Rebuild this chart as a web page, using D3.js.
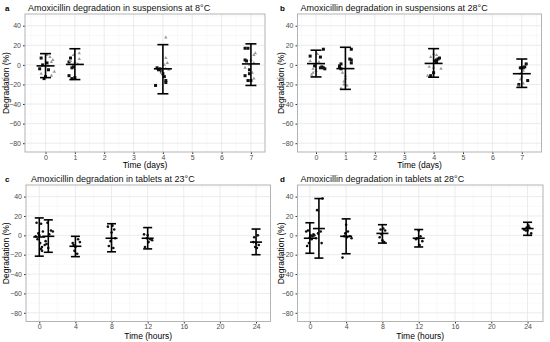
<!DOCTYPE html>
<html>
<head>
<meta charset="utf-8">
<script src="https://cdn.jsdelivr.net/npm/d3@7"></script>
<style>
  body { margin: 0; background: #fff; }
  svg { font-family: "Liberation Sans", Arial, sans-serif; }
</style>
</head>
<body>
<svg id="chart" width="550" height="342"></svg>
<script>
// ************************************
// Data
// ************************************

const panelLetters = ["a", "b", "c", "d"];
const panelTitles = [
  "Amoxicillin degradation in suspensions at 8\u00B0C",
  "Amoxicillin degradation in suspensions at 28\u00B0C",
  "Amoxicillin degradation in tablets at 23\u00B0C",
  "Amoxicillin degradation in tablets at 28\u00B0C"
];
const xTitles = ["Time (days)", "Time (days)", "Time (hours)", "Time (hours)"];
const dayTicks = [0, 1, 2, 3, 4, 5, 6, 7];
const hourTicks = [0, 4, 8, 12, 16, 20, 24];
const yTicks = [40, 20, 0, -20, -40, -60, -80];

// summary: time, mean, lower, upper
const summaryA = [[0, -1, -13, 11.5], [1, 0.5, -15, 16.5], [4, -4, -29.5, 20.7], [7, 1, -21, 21.5]];
const summaryB = [[0, 1.3, -12.3, 15], [1, -3.8, -25, 18], [4, 1.5, -12.6, 16.6], [7, -9, -23, 6]];
const summaryC = [[0, -1.7, -21.5, 18], [1, -1, -17.5, 16], [4, -11.3, -22, -1], [8, -3, -17, 12], [12, -3, -14, 8], [24, -7, -20, 6.5]];
const summaryD = [[0, -3, -18.5, 13], [1, 7, -23.5, 38], [4, -1, -19, 17], [8, 2, -8, 11], [12, -3, -12, 6], [24, 7, 0, 13.5]];

// individual points: x (time incl. jitter), y, series (s = square, t = triangle, c = dot)
const pointsA = [
  [-0.15, 7, "s"], [-0.1, 0, "s"], [0.05, 2, "s"], [-0.2, -4, "s"], [0.1, -5, "s"], [0.0, -12, "s"], [-0.05, -14, "s"],
  [0.15, 8, "t"], [0.25, 5, "t"], [0.2, 3, "t"], [0.1, -1, "t"], [0.3, -7, "t"], [-0.15, -9, "t"], [0.2, -11, "t"], [0.05, 10, "t"],
  [0.85, 7, "s"], [0.8, 3, "s"], [0.9, -3, "s"], [0.95, -2, "s"], [0.8, -11, "s"], [0.9, -14, "s"], [1.0, -13, "s"],
  [0.95, 10, "t"], [1.15, 12, "t"], [1.15, 6, "t"], [1.1, 1, "t"], [1.0, 3, "t"], [0.85, 4, "t"],
  [3.75, -21, "s"], [3.85, -5, "s"], [3.9, -4, "s"], [3.95, -7, "s"], [4.0, -9, "s"], [4.05, -12, "s"], [4.1, -16, "s"], [4.1, -18, "s"], [3.8, -3, "s"],
  [4.1, 28, "t"], [4.1, 7, "t"], [4.15, 2, "t"], [4.2, -5, "t"], [3.95, -8, "t"], [4.05, 0, "t"], [4.1, -4, "t"],
  [6.8, 17, "s"], [6.9, 17, "s"], [6.8, 5, "s"], [6.85, 4, "s"], [6.95, -5, "s"], [6.8, -11, "s"], [6.9, -16, "s"], [7.0, -16, "s"], [6.95, -9, "s"],
  [7.15, 12, "t"], [7.1, 10, "t"], [7.0, 5, "t"], [7.1, 2, "t"], [6.8, -3, "t"], [7.05, -8, "t"], [7.1, -14, "t"], [6.95, 0, "t"]
];
const pointsB = [
  [-0.2, 9, "s"], [0.25, 16, "s"], [0.15, 8, "s"], [-0.05, -1, "s"], [0.2, -2, "s"], [0.25, -3, "s"], [0.3, -4, "s"], [0.15, -3, "s"],
  [0.05, 11, "t"], [-0.1, -4, "t"], [0.0, -6, "t"], [-0.1, -8, "t"], [-0.15, -10, "t"], [0.1, 3, "t"], [-0.2, 4, "t"],
  [0.85, 1, "s"], [0.8, -1, "s"], [0.8, -2, "s"], [1.2, 16, "s"], [1.15, 6, "s"], [1.2, 5, "s"], [1.2, 2, "s"], [0.85, -4, "s"],
  [0.85, -24, "t"], [0.95, -20, "t"], [0.95, -17, "t"], [1.0, -11, "t"], [1.05, -21, "t"], [0.9, -8, "t"], [1.0, -14, "t"],
  [3.9, -11, "s"], [4.0, -8, "s"], [4.1, 5, "s"], [4.15, 6, "s"], [4.2, 7, "s"], [4.05, 4, "s"], [4.1, 3, "s"],
  [3.8, -11, "t"], [4.0, 11, "t"], [4.1, 10, "t"], [3.9, 8, "t"], [4.25, -4, "t"], [3.85, -2, "t"], [4.0, -3, "t"],
  [6.95, -3, "s"], [7.0, -3, "s"], [7.05, -3, "s"], [7.1, -2, "s"], [7.15, 1, "s"], [7.2, -16, "s"], [6.9, -20, "s"],
  [7.0, -12, "t"], [6.95, -9, "t"], [7.05, -6, "t"], [6.9, -22, "t"], [7.05, -19, "t"], [6.95, -15, "t"]
];
const pointsC = [
  [-0.3, 13, "c"], [0.2, 12, "c"], [0.4, 4, "c"], [-0.4, -1, "c"], [-0.2, -4, "c"], [0.1, -8, "c"], [0.3, -12, "c"], [0.2, -14, "c"], [0.3, -16, "c"], [0.0, 0, "c"], [-0.1, 2, "c"],
  [0.9, 13, "c"], [1.3, 5, "c"], [1.5, 4, "c"], [1.1, 1, "c"], [0.7, -6, "c"], [0.8, -9, "c"], [1.0, -13, "c"], [0.6, -10, "c"],
  [3.7, -8, "c"], [4.3, -4, "c"], [4.5, -7, "c"], [3.8, -10, "c"], [4.0, -12, "c"], [3.9, -16, "c"], [4.2, -19, "c"],
  [7.6, 9, "c"], [8.1, 10, "c"], [8.3, 6, "c"], [8.0, 3, "c"], [8.4, -3, "c"], [7.7, -11, "c"], [8.2, -13, "c"], [7.9, -6, "c"],
  [11.6, 1, "c"], [12.0, 0, "c"], [12.3, -4, "c"], [12.5, -5, "c"], [12.1, -7, "c"], [11.7, -12, "c"], [11.9, -3, "c"],
  [24.2, 0, "c"], [23.8, -2, "c"], [23.7, -7, "c"], [24.0, -8, "c"], [24.3, -10, "c"], [23.9, -12, "c"], [24.1, -13, "c"]
];
const pointsD = [
  [-0.4, 4, "c"], [-0.2, 5, "c"], [0.1, 0, "c"], [0.3, -1, "c"], [0.4, 1, "c"], [-0.3, -11, "c"], [-0.1, -8, "c"], [0.2, -4, "c"], [0.5, 0, "c"], [0.0, -2, "c"],
  [0.8, 26, "c"], [1.4, 38, "c"], [1.2, 4, "c"], [1.3, -8, "c"], [0.7, -3, "c"], [0.9, 2, "c"],
  [3.6, -23, "c"], [4.0, 11, "c"], [4.2, 4, "c"], [3.9, 2, "c"], [4.4, -1, "c"], [4.6, -3, "c"], [3.8, -1, "c"], [4.1, -2, "c"],
  [7.8, 6, "c"], [8.1, 7, "c"], [8.3, 5, "c"], [7.7, -2, "c"], [8.0, -5, "c"], [8.2, -7, "c"], [7.9, 1, "c"],
  [11.7, -4, "c"], [12.0, 5, "c"], [12.2, -1, "c"], [12.4, -6, "c"], [11.8, -3, "c"], [12.1, -10, "c"],
  [23.6, 6, "c"], [23.9, 8, "c"], [24.0, 5, "c"], [24.2, 8, "c"], [24.4, 2, "c"], [23.8, 5, "c"], [24.1, 10, "c"]
];

// ************************************
// Layout
// ************************************

const svg = d3.select("#chart");

const panels = [
  { x0: 25, x1: 265, y0: 14, y1: 152, xd: [-0.7, 7.48], xt: dayTicks, minor: 0.5, summary: summaryA, points: pointsA, bar: 9, cap: 5.5 },
  { x0: 297.5, x1: 541.5, y0: 14, y1: 152, xd: [-0.63, 7.67], xt: dayTicks, minor: 0.5, summary: summaryB, points: pointsB, bar: 9, cap: 5.5 },
  { x0: 26, x1: 270.5, y0: 185, y1: 321.5, xd: [-1.47, 25.6], xt: hourTicks, minor: 2, summary: summaryC, points: pointsC, bar: 6, cap: 4.5 },
  { x0: 297.5, x1: 543, y0: 185, y1: 321.5, xd: [-1.36, 25.7], xt: hourTicks, minor: 2, summary: summaryD, points: pointsD, bar: 6, cap: 4.5 }
];

panels.forEach((p, i) => {
  const x = d3.scaleLinear().domain(p.xd).range([p.x0, p.x1]);
  const y = d3.scaleLinear().domain([-89, 52]).range([p.y1, p.y0]);
  const g = svg.append("g");

  // minor grid
  const xMinor = d3.range(p.xt[0] - p.minor, p.xt[p.xt.length - 1] + p.minor * 2, p.minor * 2)
    .filter(v => v > p.xd[0] && v < p.xd[1]);
  const yMinor = [50, 30, 10, -10, -30, -50, -70];
  g.selectAll(".xminor").data(xMinor).enter().append("line")
    .attr("x1", d => x(d)).attr("x2", d => x(d)).attr("y1", p.y0).attr("y2", p.y1)
    .attr("stroke", "#f2f2f2").attr("stroke-width", 0.5);
  g.selectAll(".yminor").data(yMinor).enter().append("line")
    .attr("x1", p.x0).attr("x2", p.x1).attr("y1", d => y(d)).attr("y2", d => y(d))
    .attr("stroke", "#f2f2f2").attr("stroke-width", 0.5);

  // major grid
  g.selectAll(".xgrid").data(p.xt).enter().append("line")
    .attr("x1", d => x(d)).attr("x2", d => x(d)).attr("y1", p.y0).attr("y2", p.y1)
    .attr("stroke", "#e6e6e6").attr("stroke-width", 0.8);
  g.selectAll(".ygrid").data(yTicks).enter().append("line")
    .attr("x1", p.x0).attr("x2", p.x1).attr("y1", d => y(d)).attr("y2", d => y(d))
    .attr("stroke", "#e6e6e6").attr("stroke-width", 0.8);

  // axes
  const xAxis = g.append("g")
    .attr("transform", `translate(0,${p.y1})`)
    .call(d3.axisBottom(x).tickValues(p.xt).tickSize(2).tickPadding(1));
  const yAxis = g.append("g")
    .attr("transform", `translate(${p.x0},0)`)
    .call(d3.axisLeft(y).tickValues(yTicks).tickSize(2).tickPadding(2));
  [xAxis, yAxis].forEach(a => {
    a.select(".domain").remove();
    a.selectAll(".tick line").attr("stroke", "#333");
    a.selectAll(".tick text").attr("fill", "#4d4d4d").style("font-size", "7px");
  });

  // panel border
  g.append("rect")
    .attr("x", p.x0).attr("y", p.y0)
    .attr("width", p.x1 - p.x0).attr("height", p.y1 - p.y0)
    .attr("fill", "none").attr("stroke", "#b3b3b3").attr("stroke-width", 1);

  // points
  const tri = d3.symbol().type(d3.symbolTriangle).size(5);
  p.points.forEach(d => {
    if (d[2] === "s") {
      g.append("rect")
        .attr("x", x(d[0]) - 1.5).attr("y", y(d[1]) - 1.5)
        .attr("width", 3).attr("height", 3).attr("fill", "#111");
    } else if (d[2] === "t") {
      g.append("path").attr("d", tri())
        .attr("transform", `translate(${x(d[0])},${y(d[1])})`)
        .attr("fill", "#9a9a9a");
    } else {
      g.append("circle")
        .attr("cx", x(d[0])).attr("cy", y(d[1])).attr("r", 1.3).attr("fill", "#111");
    }
  });

  // error bars + mean
  const eb = g.selectAll(".eb").data(p.summary).enter().append("g")
    .attr("stroke", "#000").attr("stroke-width", 1.6);
  eb.append("line")
    .attr("x1", d => x(d[0])).attr("x2", d => x(d[0]))
    .attr("y1", d => y(d[2])).attr("y2", d => y(d[3]));
  eb.append("line")
    .attr("x1", d => x(d[0]) - p.cap).attr("x2", d => x(d[0]) + p.cap)
    .attr("y1", d => y(d[2])).attr("y2", d => y(d[2]));
  eb.append("line")
    .attr("x1", d => x(d[0]) - p.cap).attr("x2", d => x(d[0]) + p.cap)
    .attr("y1", d => y(d[3])).attr("y2", d => y(d[3]));
  eb.append("line")
    .attr("x1", d => x(d[0]) - p.bar).attr("x2", d => x(d[0]) + p.bar)
    .attr("y1", d => y(d[1])).attr("y2", d => y(d[1]));

  // titles
  const left = i % 2 === 0 ? 0 : 275;
  g.append("text")
    .attr("x", left + 5).attr("y", p.y0 - 3.5)
    .style("font-size", "8px").style("font-weight", "bold")
    .text(panelLetters[i]);
  g.append("text")
    .attr("x", p.x0 + (i === 2 ? 5 : 3)).attr("y", p.y0 - 3.5)
    .style("font-size", "9px").attr("fill", "#111")
    .text(panelTitles[i]);
  g.append("text")
    .attr("x", (p.x0 + p.x1) / 2).attr("y", p.y1 + (i < 2 ? 16 : 17))
    .attr("text-anchor", "middle")
    .style("font-size", "8.5px")
    .text(xTitles[i]);
  g.append("text")
    .attr("transform", `translate(${left + 8.5},${(p.y0 + p.y1) / 2}) rotate(-90)`)
    .attr("text-anchor", "middle")
    .style("font-size", "8.5px")
    .text("Degradation (%)");
});
</script>
</body>
</html>
